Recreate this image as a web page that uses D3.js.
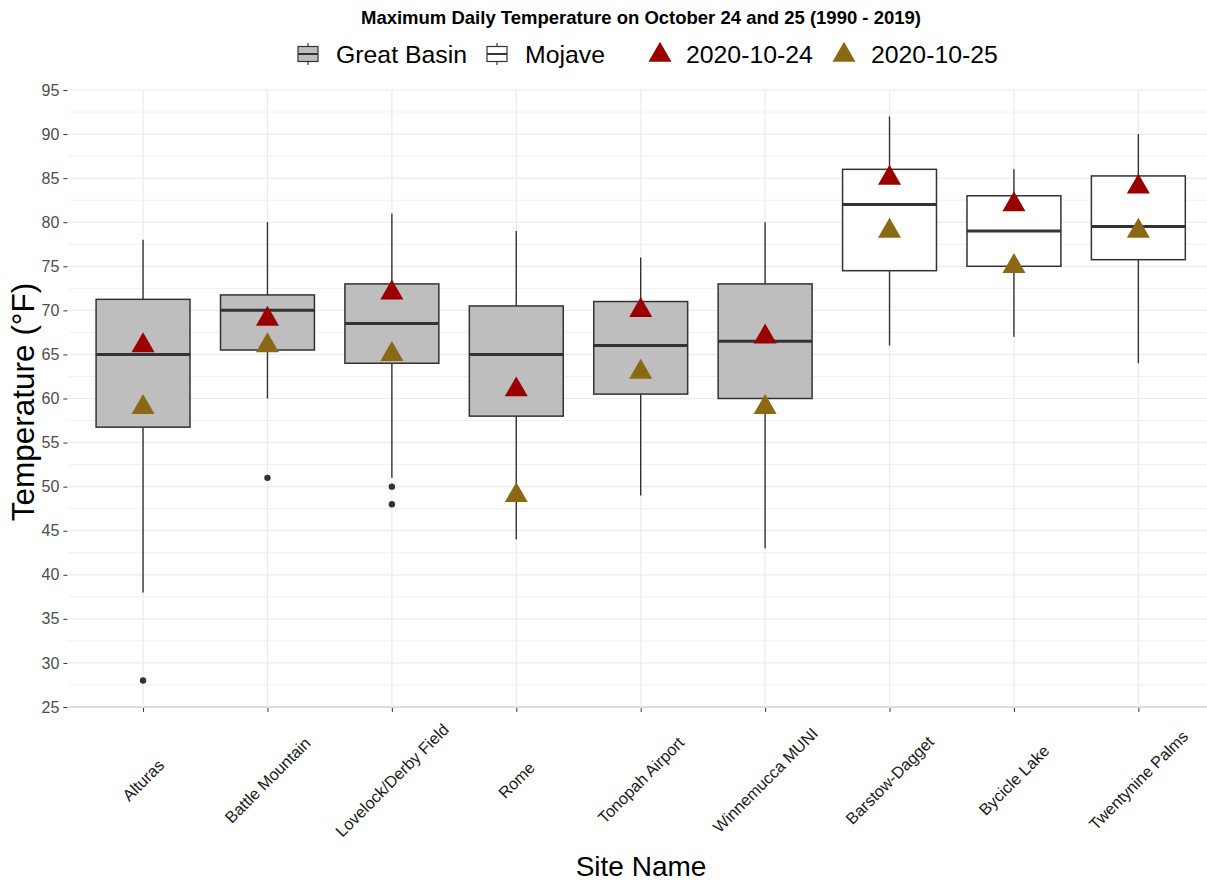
<!DOCTYPE html>
<html>
<head>
<meta charset="utf-8">
<script src="https://cdn.jsdelivr.net/npm/d3@7"></script>
<style>
  html, body { margin: 0; padding: 0; background: #ffffff; }
  svg { display: block; font-family: "Liberation Sans", Arial, sans-serif; }
</style>
</head>
<body>
<svg id="chart" width="1207" height="882"></svg>
<script>
// Sites and their climate region
const sites = ["Alturas", "Battle Mountain", "Lovelock/Derby Field", "Rome", "Tonopah Airport",
               "Winnemucca MUNI", "Barstow-Dagget", "Bycicle Lake", "Twentynine Palms"];
const regions = ["Great Basin", "Great Basin", "Great Basin", "Great Basin", "Great Basin",
                 "Great Basin", "Mojave", "Mojave", "Mojave"];

// Box-plot summaries of daily maximum temperature (°F), 1990 - 2019
const whiskerLow  = [38, 60, 51, 44, 49, 43, 66, 67, 64];
const q1          = [56.75, 65.5, 64, 58, 60.5, 60, 74.5, 75, 75.75];
const medians     = [65, 70, 68.5, 65, 66, 66.5, 82, 79, 79.5];
const q3          = [71.25, 71.75, 73, 70.5, 71, 73, 86, 83, 85.25];
const whiskerHigh = [78, 80, 81, 79, 76, 80, 92, 86, 90];

// Outlying years
const outlierSites  = ["Alturas", "Battle Mountain", "Lovelock/Derby Field", "Lovelock/Derby Field"];
const outlierValues = [28, 51, 50, 48];

// 2020 observations
const obs20201024 = [66, 69, 72, 61, 70, 67, 85, 82, 84];
const obs20201025 = [59, 66, 65, 49, 63, 59, 79, 75, 79];

const yTicks = [25, 30, 35, 40, 45, 50, 55, 60, 65, 70, 75, 80, 85, 90, 95];
const yMinor = [27.5, 32.5, 37.5, 42.5, 47.5, 52.5, 57.5, 62.5, 67.5, 72.5, 77.5, 82.5, 87.5, 92.5];

const regionFill = { "Great Basin": "#bebebe", "Mojave": "#ffffff" };
const dayColors = { "2020-10-24": "#9b0000", "2020-10-25": "#8b6914" };

const svg = d3.select("#chart");

const panel = { left: 68.4, right: 1213, top: 90, bottom: 707 };

const x = d3.scalePoint().domain(sites).range([panel.left, panel.right]).padding(0.6);
const y = d3.scaleLinear().domain([25, 95]).range([panel.bottom, panel.top]);
const boxW = x.step() * 0.755;

// Grid
const grid = svg.append("g");
grid.selectAll("line.minor").data(yMinor).join("line")
  .attr("x1", panel.left).attr("x2", panel.right)
  .attr("y1", d => y(d)).attr("y2", d => y(d))
  .attr("stroke", "#f0f0f0").attr("stroke-width", 1);
grid.selectAll("line.major").data(yTicks).join("line")
  .attr("x1", panel.left).attr("x2", panel.right)
  .attr("y1", d => y(d)).attr("y2", d => y(d))
  .attr("stroke", d => d === 25 ? "#dcdcdc" : "#ebebeb")
  .attr("stroke-width", d => d === 25 ? 2 : 1.2);
grid.selectAll("line.vert").data(sites).join("line")
  .attr("x1", d => x(d)).attr("x2", d => x(d))
  .attr("y1", panel.top).attr("y2", panel.bottom)
  .attr("stroke", "#ebebeb").attr("stroke-width", 1.2);

// Axes
const yAxis = d3.axisLeft(y).tickValues(yTicks).tickSize(4).tickPadding(4);
const gy = svg.append("g").attr("transform", `translate(${panel.left - 1},0)`).call(yAxis);
gy.select(".domain").remove();
gy.selectAll(".tick line").attr("stroke", "#333333");
gy.selectAll(".tick text").attr("fill", "#4d4d4d").style("font-size", "16px")
  .style("font-family", "Liberation Sans, Arial, sans-serif");

const xAxis = d3.axisBottom(x).tickSize(4).tickFormat("");
const gx = svg.append("g").attr("transform", `translate(0,${panel.bottom + 1})`).call(xAxis);
gx.select(".domain").remove();
gx.selectAll(".tick line").attr("stroke", "#333333");

svg.append("g").selectAll("text").data(sites).join("text")
  .attr("transform", d => `translate(${x(d)},780) rotate(-45)`)
  .attr("text-anchor", "middle").attr("dominant-baseline", "central")
  .attr("fill", "#1a1a1a").style("font-size", "16.3px")
  .text(d => d);

// Box plots
const boxes = svg.append("g");
sites.forEach((s, i) => {
  const cx = x(s);
  const g = boxes.append("g");
  g.append("line").attr("x1", cx).attr("x2", cx)
    .attr("y1", y(q3[i])).attr("y2", y(whiskerHigh[i]))
    .attr("stroke", "#333333").attr("stroke-width", 1.4);
  g.append("line").attr("x1", cx).attr("x2", cx)
    .attr("y1", y(q1[i])).attr("y2", y(whiskerLow[i]))
    .attr("stroke", "#333333").attr("stroke-width", 1.4);
  g.append("rect").attr("x", cx - boxW / 2).attr("width", boxW)
    .attr("y", y(q3[i])).attr("height", y(q1[i]) - y(q3[i]))
    .attr("fill", regionFill[regions[i]]).attr("stroke", "#333333").attr("stroke-width", 1.5);
  g.append("line").attr("x1", cx - boxW / 2).attr("x2", cx + boxW / 2)
    .attr("y1", y(medians[i])).attr("y2", y(medians[i]))
    .attr("stroke", "#333333").attr("stroke-width", 3);
});

// Outliers
svg.append("g").selectAll("circle").data(outlierValues).join("circle")
  .attr("cx", (d, i) => x(outlierSites[i])).attr("cy", d => y(d))
  .attr("r", 3.2).attr("fill", "#333333");

// 2020 triangles
const tri = d3.symbol().type(d3.symbolTriangle).size(230);
const pts = svg.append("g");
pts.selectAll("path.d24").data(obs20201024).join("path")
  .attr("transform", (d, i) => `translate(${x(sites[i])},${y(d)})`)
  .attr("d", tri).attr("fill", dayColors["2020-10-24"]);
pts.selectAll("path.d25").data(obs20201025).join("path")
  .attr("transform", (d, i) => `translate(${x(sites[i])},${y(d)})`)
  .attr("d", tri).attr("fill", dayColors["2020-10-25"]);

// Titles
svg.append("text").attr("x", 641).attr("y", 24).attr("text-anchor", "middle")
  .style("font-size", "18.5px").style("font-weight", "bold").attr("fill", "#000")
  .text("Maximum Daily Temperature on October 24 and 25 (1990 - 2019)");

svg.append("text").attr("x", 641).attr("y", 876).attr("text-anchor", "middle")
  .style("font-size", "28px").attr("fill", "#000").text("Site Name");

svg.append("text").attr("transform", "translate(34,402) rotate(-90)").attr("text-anchor", "middle")
  .style("font-size", "31.5px").attr("fill", "#000").text("Temperature (°F)");

// Legend
const legend = svg.append("g");
const ly = 54;
function boxKey(cx, fill) {
  const k = legend.append("g");
  k.append("line").attr("x1", cx).attr("x2", cx).attr("y1", ly - 11).attr("y2", ly + 11)
    .attr("stroke", "#333333").attr("stroke-width", 1.2);
  k.append("rect").attr("x", cx - 10).attr("y", ly - 7.5).attr("width", 20).attr("height", 15)
    .attr("fill", fill).attr("stroke", "#333333").attr("stroke-width", 1.2);
  k.append("line").attr("x1", cx - 10).attr("x2", cx + 10).attr("y1", ly).attr("y2", ly)
    .attr("stroke", "#333333").attr("stroke-width", 2);
}
function legendText(tx, label) {
  legend.append("text").attr("x", tx).attr("y", ly).attr("dominant-baseline", "central")
    .style("font-size", "24.8px").attr("fill", "#000").text(label);
}
boxKey(308, regionFill["Great Basin"]);
legendText(336, "Great Basin");
boxKey(497, regionFill["Mojave"]);
legendText(525, "Mojave");
legend.append("path").attr("transform", `translate(660,${ly + 1})`).attr("d", tri).attr("fill", dayColors["2020-10-24"]);
legendText(686, "2020-10-24");
legend.append("path").attr("transform", `translate(844,${ly + 1})`).attr("d", tri).attr("fill", dayColors["2020-10-25"]);
legendText(871, "2020-10-25");
</script>
</body>
</html>
